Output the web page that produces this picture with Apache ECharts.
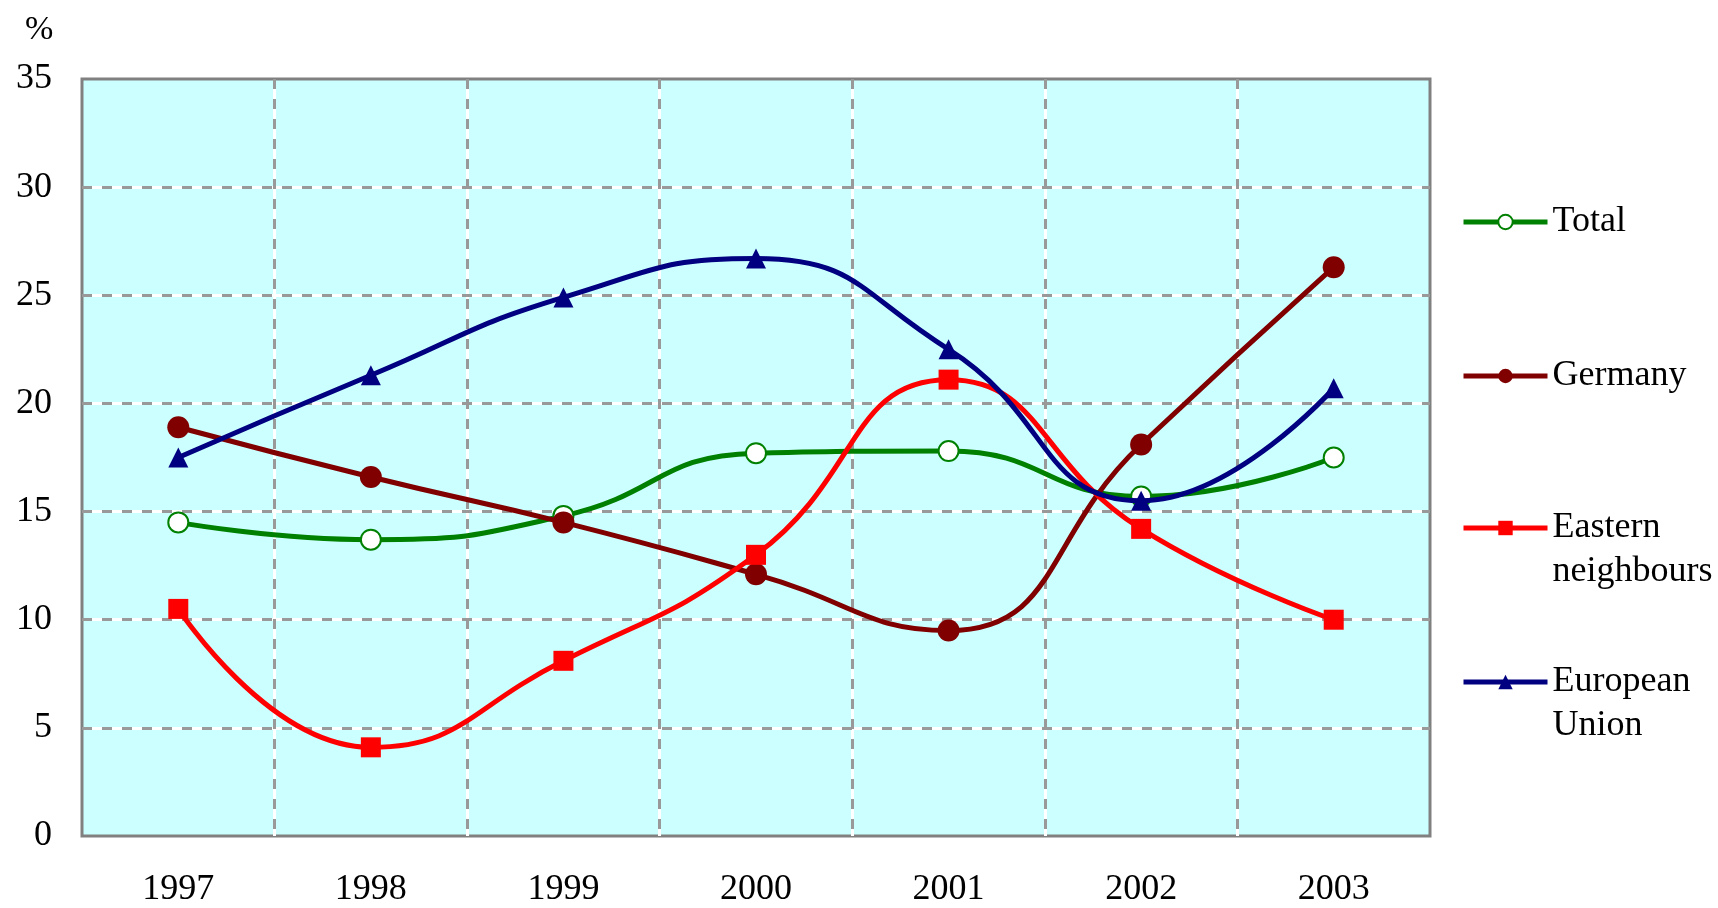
<!DOCTYPE html>
<html>
<head>
<meta charset="utf-8">
<script src="https://cdn.jsdelivr.net/npm/echarts@6/dist/echarts.min.js"></script>
<style>
html,body{margin:0;padding:0;background:#fff;}
#chart{width:1718px;height:908px;}
</style>
</head>
<body>
<div id="chart"></div>
<script>
const years = ['1997','1998','1999','2000','2001','2002','2003'];
const total = [14.5, 13.7, 14.8, 17.7, 17.8, 15.7, 17.5];
const germany = [18.9, 16.6, 14.5, 12.1, 9.5, 18.1, 26.3];
const eastern = [10.5, 4.1, 8.1, 13.0, 21.1, 14.2, 10.0];
const eu = [17.5, 21.3, 24.9, 26.7, 22.5, 15.5, 20.7];
const names = ['Total', 'Germany', 'Eastern neighbours', 'European Union'];
const legendLabels = ['Total', 'Germany', '\u00a0\nEastern\nneighbours', '\u00a0\nEuropean\nUnion'];

const FONT = '"Liberation Serif", "Times New Roman", serif';
const chart = echarts.init(document.getElementById('chart'));

function legendItem(i, top) {
  return {
    show: true,
    orient: 'vertical',
    left: 1461,
    top: top,
    padding: 0,
    itemWidth: 84,
    itemHeight: 18,
    selectedMode: false,
    data: [names[i]],
    formatter: function () { return legendLabels[i]; },
    lineStyle: { width: 5 },
    textStyle: {
      fontFamily: FONT,
      fontSize: 36,
      color: '#000',
      lineHeight: 44
    }
  };
}

const splitCommon = { showMinLine: false, showMaxLine: false };

chart.setOption({
  animation: false,
  backgroundColor: '#ffffff',
  title: {
    text: '%',
    left: 20,
    top: 8,
    textStyle: { fontFamily: FONT, fontSize: 34, fontWeight: 'normal', color: '#000' }
  },
  grid: {
    left: 82, top: 79, right: 288, bottom: 67,
    show: true,
    backgroundColor: '#CCFFFF',
    borderColor: '#808080',
    borderWidth: 3,
    containLabel: false
  },
  legend: [
    legendItem(0, 200),
    legendItem(1, 354),
    legendItem(2, 462),
    legendItem(3, 616)
  ],
  xAxis: [
    {
      type: 'category',
      data: years,
      boundaryGap: true,
      axisLine: { show: false },
      axisTick: { show: false },
      axisLabel: { fontFamily: FONT, fontSize: 36, color: '#000', margin: 36 },
      splitLine: Object.assign({ show: true, lineStyle: { color: '#ffffff', width: 3, type: 'solid' } }, splitCommon),
      z: 1
    },
    {
      type: 'category',
      data: years,
      boundaryGap: true,
      position: 'bottom',
      axisLine: { show: false },
      axisTick: { show: false },
      axisLabel: { show: false },
      splitLine: Object.assign({ show: true, lineStyle: { color: '#999999', width: 3, type: [10, 10] } }, splitCommon),
      z: 2
    }
  ],
  yAxis: [
    {
      type: 'value',
      min: 0, max: 35, interval: 5,
      axisLine: { show: false },
      axisTick: { show: false },
      axisLabel: { fontFamily: FONT, fontSize: 36, color: '#000', margin: 30 },
      splitLine: Object.assign({ show: true, lineStyle: { color: '#ffffff', width: 3, type: 'solid' } }, splitCommon),
      z: 1
    },
    {
      type: 'value',
      min: 0, max: 35, interval: 5,
      position: 'left',
      axisLine: { show: false },
      axisTick: { show: false },
      axisLabel: { show: false },
      splitLine: Object.assign({ show: true, lineStyle: { color: '#999999', width: 3, type: [10, 10] } }, splitCommon),
      z: 2
    }
  ],
  series: [
    {
      name: names[0], type: 'line', data: total, smooth: 0.5, z: 5,
      symbol: 'circle', symbolSize: 20, showAllSymbol: true,
      lineStyle: { color: '#008000', width: 5 },
      itemStyle: { color: '#ffffff', borderColor: '#008000', borderWidth: 2 }
    },
    {
      name: names[1], type: 'line', data: germany, smooth: 0.5, z: 6,
      symbol: 'circle', symbolSize: 22,
      lineStyle: { color: '#800000', width: 5 },
      itemStyle: { color: '#800000' }
    },
    {
      name: names[2], type: 'line', data: eastern, smooth: 0.5, z: 7,
      symbol: 'rect', symbolSize: 20,
      lineStyle: { color: '#FF0000', width: 5 },
      itemStyle: { color: '#FF0000' }
    },
    {
      name: names[3], type: 'line', data: eu, smooth: 0.5, z: 8,
      symbol: 'triangle', symbolSize: 20,
      lineStyle: { color: '#000080', width: 5 },
      itemStyle: { color: '#000080' }
    }
  ]
});
</script>
</body>
</html>
